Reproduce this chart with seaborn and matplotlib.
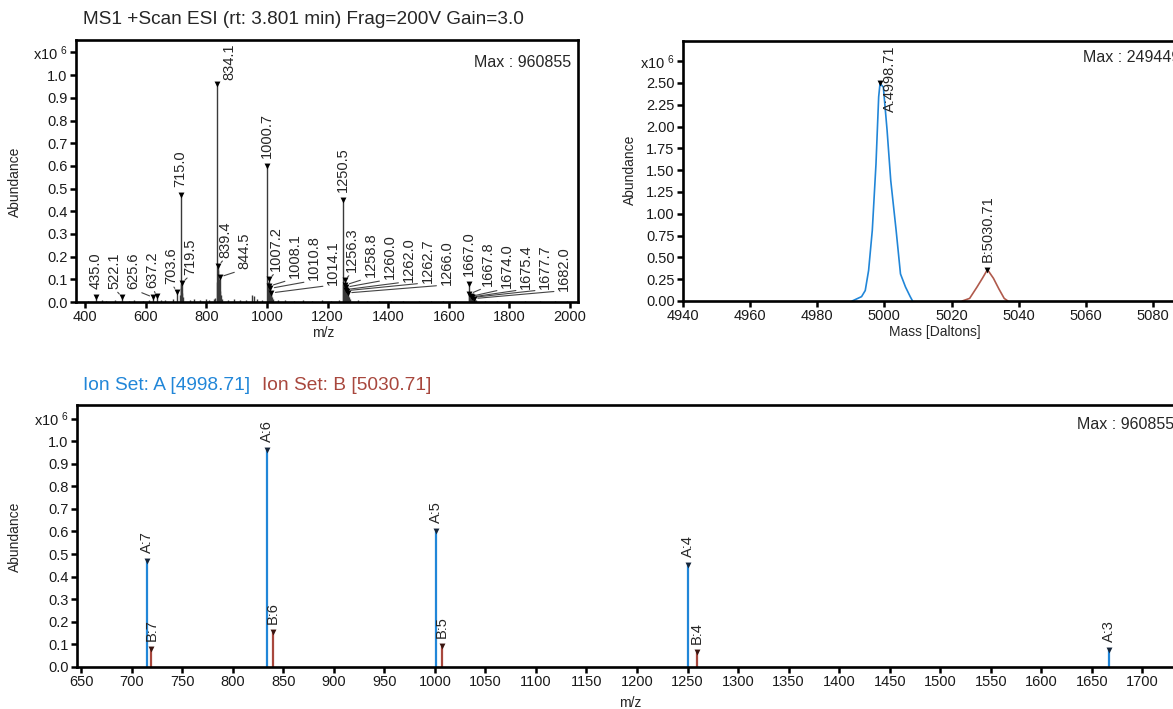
import numpy as np
import pandas as pd
import matplotlib
matplotlib.use('Agg')
import matplotlib.pyplot as plt
import seaborn as sns

sns.set_theme(style='ticks')
plt.rcParams['font.family'] = ['Liberation Sans', 'DejaVu Sans']
plt.rcParams['mathtext.fontset'] = 'custom'
plt.rcParams['mathtext.rm'] = 'Liberation Sans'
plt.rcParams['mathtext.default'] = 'regular'

# ============================================================================
# data (abundance in units of 10^6 counts)
# ============================================================================
# MS1 spectrum: labelled peaks
ms1_mz = [435.0, 522.1, 625.6, 637.2, 703.6, 715.0, 719.5, 834.1, 839.4, 844.5,
          1000.7, 1007.2, 1008.1, 1010.8, 1014.1, 1250.5, 1256.3, 1258.8, 1260.0,
          1262.0, 1262.7, 1266.0, 1667.0, 1667.8, 1674.0, 1675.4, 1677.7, 1682.0]
ms1_ab = [0.022, 0.022, 0.020, 0.025, 0.045, 0.470, 0.085, 0.961, 0.160, 0.110,
          0.600, 0.100, 0.070, 0.060, 0.040, 0.450, 0.095, 0.075, 0.065,
          0.055, 0.050, 0.040, 0.078, 0.035, 0.025, 0.022, 0.020, 0.015]

# MS1 spectrum: unlabelled small peaks / noise
noise_mz = [410, 455, 470, 500, 545, 560, 590, 610, 650, 665, 690, 712, 716.5, 717.5,
            721, 722.5, 745, 760, 780, 800, 810, 826, 830, 836, 837, 838, 840.5, 842,
            846, 848, 852, 870, 890, 912, 930, 952, 958, 966, 985, 1002, 1003.5, 1005,
            1009.5, 1012, 1016, 1020, 1035, 1060, 1090, 1120, 1150, 1180, 1210, 1238,
            1252, 1253.5, 1255, 1257.5, 1264, 1268, 1270, 1275, 1300, 1330, 1370, 1410,
            1450, 1500, 1540, 1580, 1620, 1669, 1670.5, 1672, 1679, 1685, 1690, 1720,
            1760, 1800, 1850, 1900, 1950, 1990]
noise_ab = [0.006, 0.008, 0.006, 0.007, 0.006, 0.009, 0.006, 0.010, 0.008, 0.007, 0.012,
            0.030, 0.080, 0.060, 0.040, 0.020, 0.010, 0.012, 0.008, 0.015, 0.010, 0.012,
            0.018, 0.090, 0.120, 0.140, 0.100, 0.080, 0.050, 0.030, 0.015, 0.010, 0.012,
            0.008, 0.010, 0.030, 0.025, 0.012, 0.010, 0.080, 0.070, 0.090, 0.050, 0.040,
            0.020, 0.012, 0.010, 0.008, 0.006, 0.008, 0.006, 0.007, 0.006, 0.008, 0.080,
            0.070, 0.080, 0.060, 0.040, 0.025, 0.020, 0.012, 0.008, 0.006, 0.005, 0.006,
            0.005, 0.006, 0.005, 0.005, 0.006, 0.040, 0.030, 0.030, 0.015, 0.010, 0.008,
            0.005, 0.004, 0.005, 0.004, 0.004, 0.004, 0.004]

# deconvoluted mass spectrum
decon_a_mass = [4990.4, 4993.2, 4994.3, 4995.3, 4996.4, 4997.5, 4998.3, 4998.71,
                4999.7, 5000.8, 5001.9, 5003.5, 5004.8, 5006.3, 5007.7, 5008.4]
decon_a_ab = [0.0, 0.05, 0.12, 0.35, 0.81, 1.57, 2.34, 2.494,
              2.45, 1.96, 1.38, 0.81, 0.31, 0.16, 0.05, 0.0]
decon_b_mass = [5023.2, 5025.4, 5027.6, 5029.2, 5030.71, 5032.5, 5034.1, 5035.7, 5036.8]
decon_b_ab = [0.0, 0.03, 0.16, 0.26, 0.36, 0.26, 0.14, 0.03, 0.0]

# ion sets
ion_a_z = [7, 6, 5, 4, 3]
ion_a_mz = [715.0, 834.1, 1000.7, 1250.5, 1667.0]
ion_a_ab = [0.470, 0.961, 0.600, 0.450, 0.075]
ion_b_z = [7, 6, 5, 4]
ion_b_mz = [719.5, 839.4, 1007.2, 1259.5]
ion_b_ab = [0.080, 0.155, 0.095, 0.065]

mass_a = 4998.71
mass_b = 5030.71

BLUE = '#2186d8'
RED = '#a8473d'
W, H = 1173, 709
FS_LAB = 10.5

fig = plt.figure(figsize=(W / 100, H / 100), dpi=100)
fig.patch.set_facecolor('white')


def px_axes(left, top, right, bottom):
    return fig.add_axes([left / W, 1 - bottom / H, (right - left) / W, (bottom - top) / H])


def style_axes(ax):
    for s in ax.spines.values():
        s.set_linewidth(1.9)
        s.set_color('black')
    ax.tick_params(direction='out', length=4, width=1.8, labelsize=10.5, pad=2,
                   color='black', labelcolor='#1a1a1a')
    ax.set_facecolor('white')


def to_px(ax, x, y):
    return ax.transData.transform((x, y))


def to_data(ax, px, py):
    return ax.transData.inverted().transform((px, py))


def put_label(ax, x, y, text, label_px=None, side_dx=13):
    px, py = to_px(ax, x, y)
    fs_px = FS_LAB * 100 / 72
    h = len(text) * 0.5 * fs_px
    base = py + 8
    if base + h > ax.bbox.y1 - 2:
        tx, ty = to_data(ax, px + side_dx, ax.bbox.y1 - 4)
        ax.text(tx, ty, text, rotation=90, ha='center', va='top', fontsize=FS_LAB)
        return
    if label_px is None:
        label_px = px
    tx, ty = to_data(ax, label_px, base)
    if abs(label_px - px) > 2:
        ax.annotate(text, xy=(x, y), xytext=(tx, ty), textcoords='data', rotation=90,
                    ha='center', va='bottom', fontsize=FS_LAB,
                    arrowprops=dict(arrowstyle='-', color='#444444', lw=0.8,
                                    shrinkA=0, shrinkB=3, relpos=(0.5, 0)))
    else:
        ax.text(tx, ty, text, rotation=90, ha='center', va='bottom', fontsize=FS_LAB)


def markers(ax, xs, ys, color='black'):
    sns.scatterplot(x=xs, y=ys, marker='v', s=18, color=color, linewidth=0,
                    ax=ax, zorder=5, legend=False)


# ============================================================================
# top-left: MS1 spectrum
# ============================================================================
ax1 = px_axes(76, 40, 578, 302)
style_axes(ax1)
ax1.set_xlim(370, 2026)
ax1.set_ylim(0, 1.155)

ax1.vlines(noise_mz, 0, noise_ab, color='#3a3a3a', lw=1.0)
ax1.vlines(ms1_mz, 0, ms1_ab, color='#3a3a3a', lw=1.0)
markers(ax1, ms1_mz, ms1_ab)

ax1.set_xticks(range(400, 2001, 200))
yt = [round(v, 1) for v in np.arange(0, 1.01, 0.1)] + [1.1]
ax1.set_yticks(yt)
ax1.set_yticklabels([f'{v:.1f}' for v in yt[:-1]] + [r'x10 $^{6}$'])

# label placement: major peaks above, small peaks spread in clusters
major = [i for i, a in enumerate(ms1_ab) if a > 0.3]
minor = [i for i, a in enumerate(ms1_ab) if a <= 0.3]
for i in major:
    put_label(ax1, ms1_mz[i], ms1_ab[i], f'{ms1_mz[i]:.1f}')

clusters = []
for i in minor:
    if clusters and ms1_mz[i] - ms1_mz[clusters[-1][-1]] < 110:
        clusters[-1].append(i)
    else:
        clusters.append([i])
for cl in clusters:
    first = ms1_mz[cl[0]]
    start = to_px(ax1, first, 0)[0]
    if any(0 < first - ms1_mz[j] < 12 for j in major):
        start += 7
    for k, i in enumerate(cl):
        put_label(ax1, ms1_mz[i], ms1_ab[i], f'{ms1_mz[i]:.1f}', label_px=start + k * 19)

ax1.text(0.986, 0.916, 'Max : 960855', transform=ax1.transAxes, ha='right',
         va='center', fontsize=11.5)
ax1.set_xlabel('m/z', fontsize=10)
ax1.xaxis.set_label_coords(0.492, -0.092)
ax1.set_ylabel('Abundance', fontsize=10)
ax1.yaxis.set_label_coords(-0.108, 0.46)
fig.text(83 / W, 1 - 19 / H, 'MS1 +Scan ESI (rt: 3.801 min) Frag=200V Gain=3.0',
         ha='left', va='center', fontsize=13.7)

# ============================================================================
# top-right: deconvoluted spectrum
# ============================================================================
ax2 = px_axes(683, 41, 1220, 301)
style_axes(ax2)
ax2.set_xlim(4940, 5100)
ax2.set_ylim(0, 2.98)

decon = pd.concat([
    pd.DataFrame({'mass': decon_a_mass, 'ab': decon_a_ab, 'set': 'A'}),
    pd.DataFrame({'mass': decon_b_mass, 'ab': decon_b_ab, 'set': 'B'}),
])
sns.lineplot(data=decon, x='mass', y='ab', hue='set', palette={'A': BLUE, 'B': '#b05a4c'},
             lw=1.2, ax=ax2, legend=False, sort=False, estimator=None)
pk_a = int(np.argmax(decon_a_ab))
pk_b = int(np.argmax(decon_b_ab))
markers(ax2, [decon_a_mass[pk_a], decon_b_mass[pk_b]], [decon_a_ab[pk_a], decon_b_ab[pk_b]])
put_label(ax2, decon_a_mass[pk_a], decon_a_ab[pk_a], f'A:{mass_a:.2f}', side_dx=10)
put_label(ax2, decon_b_mass[pk_b], decon_b_ab[pk_b], f'B:{mass_b:.2f}')

ax2.set_xticks(range(4940, 5081, 20))
yt2 = list(np.arange(0, 2.51, 0.25)) + [2.75]
ax2.set_yticks(yt2)
ax2.set_yticklabels([f'{v:.2f}' for v in yt2[:-1]] + [r'x10 $^{6}$'])
ax2.text(0.745, 0.935, 'Max : 2494490', transform=ax2.transAxes, ha='left',
         va='center', fontsize=11.5)
ax2.set_xlabel('Mass [Daltons]', fontsize=10)
ax2.xaxis.set_label_coords(0.469, -0.092)
ax2.set_ylabel('Abundance', fontsize=10)
ax2.yaxis.set_label_coords(-0.086, 0.506)

# ============================================================================
# bottom: ion sets
# ============================================================================
ax3 = px_axes(77, 405, 1193, 667)
style_axes(ax3)
ax3.set_xlim(646, 1750)
ax3.set_ylim(0, 1.16)

ax3.vlines(ion_a_mz, 0, ion_a_ab, color=BLUE, lw=1.6)
ax3.vlines(ion_b_mz, 0, ion_b_ab, color=RED, lw=1.6)
markers(ax3, ion_a_mz, ion_a_ab, color='#14253a')
markers(ax3, ion_b_mz, ion_b_ab, color='#3a1510')
for z, mz, ab in zip(ion_a_z, ion_a_mz, ion_a_ab):
    put_label(ax3, mz, ab, f'A:{z}')
for z, mz, ab in zip(ion_b_z, ion_b_mz, ion_b_ab):
    put_label(ax3, mz, ab, f'B:{z}')

ax3.set_xticks(range(650, 1701, 50))
yt3 = [round(v, 1) for v in np.arange(0, 1.01, 0.1)] + [1.1]
ax3.set_yticks(yt3)
ax3.set_yticklabels([f'{v:.1f}' for v in yt3[:-1]] + [r'x10 $^{6}$'])
ax3.text(0.896, 0.924, 'Max : 960855', transform=ax3.transAxes, ha='left',
         va='center', fontsize=11.5)
ax3.set_xlabel('m/z', fontsize=10)
ax3.xaxis.set_label_coords(0.4955, -0.11)
ax3.set_ylabel('Abundance', fontsize=10)
ax3.yaxis.set_label_coords(-0.049, 0.496)

fig.text(83 / W, 1 - 385 / H, f'Ion Set: A [{mass_a:.2f}]', color=BLUE,
         ha='left', va='center', fontsize=13.8)
fig.text(262 / W, 1 - 385 / H, f'Ion Set: B [{mass_b:.2f}]', color=RED,
         ha='left', va='center', fontsize=13.8)

plt.savefig('out.png', dpi=100, facecolor='white')
